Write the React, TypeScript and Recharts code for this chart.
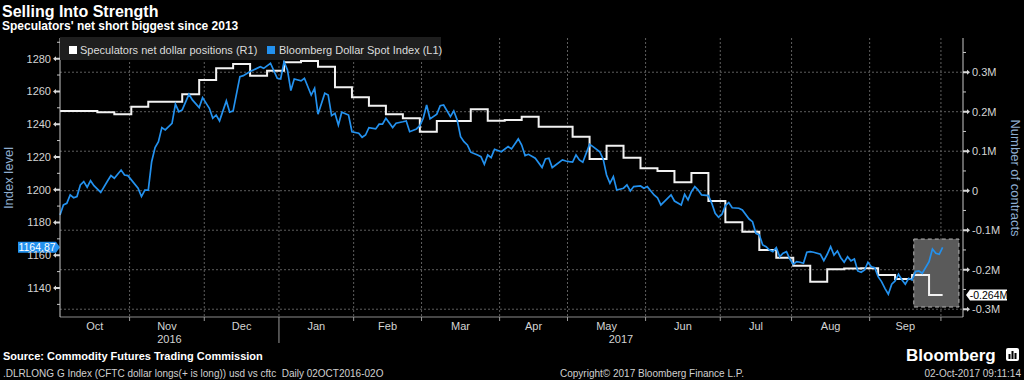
import React from 'react';
import { LineChart, Line, XAxis, YAxis, CartesianGrid, ReferenceLine, ReferenceArea } from 'recharts';

// x = weekday index, 0 = Mon 3 Oct 2016
const X_MIN = 0;
const X_MAX = 266;

const monthNames = ['Oct', 'Nov', 'Dec', 'Jan', 'Feb', 'Mar', 'Apr', 'May', 'Jun', 'Jul', 'Aug', 'Sep'];
const monthStarts = [21, 43, 65, 87, 107, 130, 150, 173, 195, 216, 239, 260]; // Nov 2016 .. Oct 2017
const yearNames = ['2016', '2017'];

// Bloomberg Dollar Spot Index (L1)
const spotDay = [
  0, 1, 2, 3, 4, 5, 6, 7, 8, 9, 10, 12, 14, 15, 16, 18, 19, 20, 23, 24, 25, 26, 27, 28, 29, 30, 31, 33, 34, 35,
  36, 38, 39, 41, 42, 44, 45, 46, 47, 49, 50, 51, 53, 54, 56, 57, 59, 60, 62, 64, 65, 66, 67, 68, 69, 71, 72, 74,
  75, 76, 78, 79, 80, 81, 82, 83, 85, 86, 88, 89, 90, 91, 93, 94, 95, 96, 98, 99, 101, 102, 103, 105, 106, 107,
  108, 109, 111, 112, 113, 115, 116, 117, 118, 119, 120, 121, 123, 124, 125, 126, 127, 128, 130, 132, 133, 135,
  136, 137, 138, 140, 142, 143, 144, 145, 146, 148, 149, 150, 151, 152, 153, 154, 156, 157, 159, 160, 161, 162,
  163, 164, 166, 167, 168, 169, 171, 172, 173, 175, 176, 177, 178, 180, 181, 183, 184, 185, 186, 187, 188, 189,
  191, 192, 193, 194, 195, 196, 197, 198, 200, 201, 203, 204, 205, 206, 207, 208, 209, 210, 211, 212, 213, 214,
  215, 216, 217, 218, 219, 220, 221, 222, 224, 225, 226, 227, 228, 229, 230, 231, 232, 233, 234, 235, 236, 237,
  238, 239, 240, 241, 242, 243, 244, 245, 246, 247, 248, 249, 250, 251, 252, 253, 254, 256, 257, 258, 259, 260,
];
const spotLevel = [
  1184.6, 1190.7, 1191.7, 1196.8, 1195.1, 1195.8, 1202.9, 1204.9, 1201.5, 1205.5, 1202.5, 1198.4, 1205.3, 1208.6,
  1207, 1212, 1209, 1208.6, 1200.9, 1195.8, 1199.8, 1199.8, 1217.1, 1225.7, 1229.3, 1237.9, 1236.5, 1240.5, 1252.2,
  1247.6, 1248.7, 1258.3, 1254.8, 1250.1, 1256.2, 1249.7, 1243.6, 1245.6, 1242, 1254.2, 1247.3, 1248.1, 1269,
  1269.6, 1272.1, 1273.1, 1275.1, 1274.1, 1277.2, 1268, 1267.6, 1278.2, 1273.1, 1260.5, 1267.6, 1266.4, 1268,
  1257.8, 1261.9, 1246.1, 1258.9, 1257.8, 1245.2, 1246.6, 1239.5, 1247.3, 1245.6, 1235.4, 1234.5, 1232, 1233.4,
  1237.9, 1237.1, 1240, 1240, 1243.6, 1237.9, 1240.6, 1241.5, 1242, 1235.4, 1237.1, 1239.1, 1243.6, 1251.7, 1243.2,
  1246.1, 1251.3, 1251.7, 1244.6, 1248.1, 1242.6, 1232.4, 1229.3, 1227.3, 1222.9, 1221.2, 1220.2, 1215.5, 1221.2,
  1219.6, 1224.7, 1223.2, 1226.3, 1224.9, 1231, 1227.3, 1220.8, 1221.6, 1219.2, 1213.5, 1218.8, 1219.2, 1213.5,
  1215.1, 1218.2, 1217.5, 1217.1, 1216.8, 1221.2, 1218.2, 1216.8, 1227.7, 1226.3, 1223.2, 1218.8, 1209, 1203.9,
  1208, 1199.8, 1200.9, 1202.9, 1199.2, 1201.9, 1202.3, 1200.9, 1201.9, 1196.8, 1195.1, 1190.7, 1192.7, 1196.8,
  1193.1, 1190.7, 1197.2, 1193.8, 1198.8, 1201.9, 1199.8, 1196.8, 1196.4, 1191.7, 1185.6, 1183.2, 1185, 1190.3,
  1192.1, 1189, 1188.7, 1187.6, 1182.1, 1180.5, 1173.4, 1172.4, 1166.3, 1165.2, 1163.2, 1162.2, 1164.6, 1159.1,
  1161.2, 1162.2, 1157.7, 1154.5, 1156.1, 1155.7, 1155.1, 1161.8, 1162.2, 1161.8, 1160.6, 1156.7, 1160.6, 1165.2,
  1160.1, 1162.6, 1158.5, 1155.7, 1159.1, 1156.6, 1157.7, 1150.4, 1149.6, 1151, 1155.7, 1153, 1152.4, 1146.9,
  1143.9, 1139.8, 1136.2, 1142.3, 1144.3, 1148.4, 1145, 1142.3, 1145.9, 1144.9, 1150, 1150.4, 1149, 1156.1, 1163.8,
  1161.2, 1160.6, 1164.87,
];

// Speculators net dollar positions (R1), weekly CFTC, contracts
const cftcDay = [
  0, 11, 16, 21, 26, 36, 41, 46, 51, 56, 61, 66, 71, 76, 81, 86, 91, 96, 101, 106, 111, 121, 126, 131, 136, 141,
  151, 156, 161, 166, 171, 176, 181, 186, 191, 196, 201, 206, 211, 216, 221, 226, 231, 236, 241, 246, 251, 256, 260,
];
const cftcNet = [
  201800, 198500, 193400, 212700, 225300, 244100, 280300, 309900, 320800, 291200, 303800, 325100, 328400, 314000,
  261800, 236500, 215200, 193400, 183300, 149400, 176500, 206100, 177200, 179000, 187400, 162000, 136700, 80300,
  113900, 83600, 56700, 49900, 21300, 44800, -26100, -80000, -103800, -150100, -169600, -189900, -230400, -199000,
  -197000, -196000, -213400, -223600, -213400, -264000, -264000,
];

const leftTicks = [1130, 1140, 1150, 1160, 1170, 1180, 1190, 1200, 1210, 1220, 1230, 1240, 1250, 1260, 1270, 1280, 1290];
const rightTicks = [-300000, -250000, -200000, -150000, -100000, -50000, 0, 50000, 100000, 150000, 200000, 250000, 300000, 350000];
const gridNet = [-300000, -200000, -100000, 0, 100000, 200000, 300000];

// shaded box around the latest readings
const highlight = { fromDay: 251.5, toDay: 264.8, low: -294500, high: -122300 };

const BLUE = '#2391ee';
const FONT = "'Liberation Sans', Arial, sans-serif";

const spotData = spotDay.map((d, i) => ({ day: d, spot: spotLevel[i] }));
const cftcData = cftcDay.map((d, i) => ({ day: d, net: cftcNet[i] }));

const boundaries = monthStarts.map((d) => d - 0.5);
const monthCenters = monthNames.map((_, i) => ((i === 0 ? X_MIN : boundaries[i - 1]) + boundaries[i]) / 2);
const yearCenters = [(X_MIN + boundaries[2]) / 2, (boundaries[2] + X_MAX) / 2];

const boundaryKind = new Map<number, boolean>(boundaries.map((b, i) => [b, i === 2]));
const monthLabel = new Map<number, string>(monthCenters.map((c, i) => [c, monthNames[i]]));
const yearLabel = new Map<number, string>(yearCenters.map((c, i) => [c, yearNames[i]]));
const xTicks = [...boundaries, ...monthCenters, ...yearCenters];

const lastSpot = spotLevel[spotLevel.length - 1];
const lastNet = cftcNet[cftcNet.length - 1];

const fmtNet = (v: number) => (v === 0 ? '0' : `${v / 1e6}M`);

const XTick = (props: any) => {
  const { x, y, payload } = props;
  const v = payload.value;
  if (boundaryKind.has(v)) {
    const yearEdge = boundaryKind.get(v);
    return <line x1={x} x2={x} y1={y} y2={y + (yearEdge ? 26 : 4)} stroke="#9a9a9a" strokeWidth={1} />;
  }
  if (monthLabel.has(v)) {
    return (
      <text x={x} y={y + 12.5} textAnchor="middle" fill="#d4d4d4" fontSize={11} fontFamily={FONT}>
        {monthLabel.get(v)}
      </text>
    );
  }
  if (yearLabel.has(v)) {
    return (
      <text x={x} y={y + 25.5} textAnchor="middle" fill="#d4d4d4" fontSize={11} fontFamily={FONT}>
        {yearLabel.get(v)}
      </text>
    );
  }
  return <g />;
};

const LeftTick = (props: any) => {
  const { x, y, payload } = props;
  const v = payload.value;
  if (v % 20 !== 0) return <line x1={x - 3} x2={x} y1={y} y2={y} stroke="#c8c8c8" />;
  return (
    <g>
      <polygon points={`${x},${y - 1} ${x - 4},${y - 1} ${x - 4},${y - 2.5} ${x - 7},${y} ${x - 4},${y + 2.5} ${x - 4},${y + 1} ${x},${y + 1}`} fill="#d8d8d8" />
      <text x={x - 9} y={y + 4} textAnchor="end" fill="#d4d4d4" fontSize={11} fontFamily={FONT}>
        {v}
      </text>
    </g>
  );
};

const RightTick = (props: any) => {
  const { x, y, payload } = props;
  const v = payload.value;
  if (v % 100000 !== 0) return <line x1={x} x2={x + 3} y1={y} y2={y} stroke="#c8c8c8" />;
  return (
    <g>
      <polygon points={`${x},${y - 1} ${x + 4},${y - 1} ${x + 4},${y - 2.5} ${x + 7},${y} ${x + 4},${y + 2.5} ${x + 4},${y + 1} ${x},${y + 1}`} fill="#d8d8d8" />
      <text x={x + 9} y={y + 4} textAnchor="start" fill="#d4d4d4" fontSize={11} fontFamily={FONT}>
        {fmtNet(v)}
      </text>
    </g>
  );
};

const SpotTag = (props: any) => {
  const { x, y } = props.viewBox;
  return (
    <g>
      <polygon points={`${x - 42},${y - 5.5} ${x - 4},${y - 5.5} ${x},${y} ${x - 4},${y + 5.5} ${x - 42},${y + 5.5}`} fill={BLUE} />
      <text x={x - 23} y={y + 4} textAnchor="middle" fill="#fff" fontSize={10.5} fontFamily={FONT}>
        {lastSpot.toFixed(2)}
      </text>
    </g>
  );
};

const NetTag = (props: any) => {
  const { x, y, width } = props.viewBox;
  const r = x + width;
  return (
    <g>
      <polygon points={`${r + 3},${y} ${r + 7},${y - 5.5} ${r + 44},${y - 5.5} ${r + 44},${y + 5.5} ${r + 7},${y + 5.5}`} fill="#fff" />
      <text x={r + 26} y={y + 4} textAnchor="middle" fill="#000" fontSize={10.5} fontFamily={FONT}>
        {`${(lastNet / 1e6).toFixed(3)}M`}
      </text>
    </g>
  );
};

export default function App() {
  return (
    <div style={{ position: 'absolute', left: 0, top: 0, width: 1024, height: 380, background: '#000', fontFamily: FONT, overflow: 'hidden' }}>
      <div style={{ position: 'absolute', left: 0, top: 0 }}>
        <LineChart width={1024} height={380} margin={{ top: 38, right: 11, bottom: 33, left: 10 }}>
          <CartesianGrid
            yAxisId="right"
            horizontalValues={gridNet}
            verticalValues={boundaries}
            stroke="#5e5e5e"
            strokeDasharray="2 2"
          />
          <XAxis
            dataKey="day"
            type="number"
            domain={[X_MIN, X_MAX]}
            ticks={xTicks}
            interval={0}
            tickSize={0}
            tickMargin={0}
            tickLine={false}
            tick={XTick}
            axisLine={{ stroke: '#8c8c8c' }}
            height={30}
          />
          <YAxis
            yAxisId="left"
            orientation="left"
            type="number"
            domain={[1122.3, 1292.6]}
            ticks={leftTicks}
            interval={0}
            tickSize={0}
            tickMargin={0}
            tickLine={false}
            tick={LeftTick}
            axisLine={{ stroke: '#c8c8c8' }}
            width={50}
          />
          <YAxis
            yAxisId="right"
            orientation="right"
            type="number"
            domain={[-319700, 386600]}
            ticks={rightTicks}
            interval={0}
            tickSize={0}
            tickMargin={0}
            tickLine={false}
            tick={RightTick}
            axisLine={{ stroke: '#c8c8c8' }}
            width={50}
          />
          <ReferenceArea
            yAxisId="right"
            x1={highlight.fromDay}
            x2={highlight.toDay}
            y1={highlight.low}
            y2={highlight.high}
            fill="#5a5a5a"
            fillOpacity={1}
            stroke="#b4b4b4"
            strokeDasharray="4 3"
            ifOverflow="visible"
          />
          <Line
            yAxisId="right"
            data={cftcData}
            dataKey="net"
            type="stepAfter"
            stroke="#f2f2f2"
            strokeWidth={2}
            dot={false}
            isAnimationActive={false}
          />
          <Line
            yAxisId="left"
            data={spotData}
            dataKey="spot"
            type="linear"
            stroke={BLUE}
            strokeWidth={1.7}
            dot={false}
            isAnimationActive={false}
          />
          <ReferenceLine yAxisId="left" y={lastSpot} stroke="none" label={(p: any) => <SpotTag {...p} />} />
          <ReferenceLine yAxisId="right" y={lastNet} stroke="none" label={(p: any) => <NetTag {...p} />} />
        </LineChart>
      </div>
      <svg width={1024} height={380} style={{ position: 'absolute', left: 0, top: 0, pointerEvents: 'none' }}>
        <text x={2} y={17} fill="#fff" fontSize={16} fontWeight="bold">Selling Into Strength</text>
        <text x={2} y={29.5} fill="#fff" fontSize={12} fontWeight="bold">Speculators' net short biggest since 2013</text>

        <rect x={60} y={37} width={381} height={23} fill="#1e1e1e" />
        <rect x={69} y={46} width={8} height={8} fill="#fff" />
        <text x={80} y={54} fill="#dcdcdc" fontSize={11}>Speculators net dollar positions (R1)</text>
        <rect x={267} y={46} width={8} height={8} fill={BLUE} />
        <text x={279} y={54} fill="#dcdcdc" fontSize={11}>Bloomberg Dollar Spot Index (L1)</text>

        <text x={13} y={178} fill="#8fadd0" fontSize={13} textAnchor="middle" transform="rotate(-90 13 178)">Index level</text>
        <text x={1011} y={178} fill="#8fadd0" fontSize={13} textAnchor="middle" transform="rotate(90 1011 178)">Number of contracts</text>

        <text x={3} y={360} fill="#fff" fontSize={11} fontWeight="bold">Source: Commodity Futures Trading Commission</text>
        <text x={3} y={377} fill="#d0d0d0" fontSize={10} style={{ whiteSpace: 'pre' }}>
          {'.DLRLONG G Index (CFTC dollar longs(+ is long)) usd vs cftc  Daily 02OCT2016-02O'}
        </text>
        <text x={560} y={377} fill="#d0d0d0" fontSize={10}>Copyright© 2017 Bloomberg Finance L.P.</text>
        <text x={1021} y={377} fill="#d0d0d0" fontSize={10} textAnchor="end">02-Oct-2017 09:11:14</text>

        <text x={906} y={361} fill="#fff" fontSize={17} fontWeight="bold">Bloomberg</text>
        <rect x={1006} y={348} width={13} height={13} rx={2} fill="#fff" />
        <rect x={1008.5} y={354} width={2} height={5} fill="#000" />
        <rect x={1011.5} y={351} width={2} height={8} fill="#000" />
        <rect x={1014.5} y={353} width={2} height={6} fill="#000" />
      </svg>
    </div>
  );
}
